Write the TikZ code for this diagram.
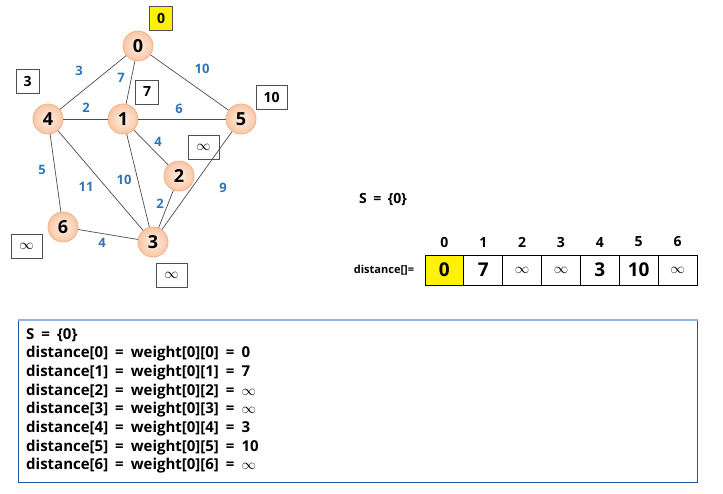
\documentclass[tikz,border=0pt]{standalone}
\usepackage{fontspec}
\setmainfont{Open Sans}[WordSpace=1.8]
\usetikzlibrary{shapes,arrows}
\definecolor{peach}{RGB}{248,198,165}
\definecolor{peachin}{RGB}{254,240,228}
\definecolor{peachline}{RGB}{244,177,131}
\definecolor{wblue}{RGB}{46,117,182}
\definecolor{boxline}{RGB}{80,80,80}
\definecolor{infoline}{RGB}{30,85,165}
\definecolor{infotop}{RGB}{143,180,222}
\newcommand{\infsym}{{\fontsize{14}{14}\selectfont$\infty$}}

\begin{document}
\begin{tikzpicture}[x=1pt,y=-1pt,
  vert/.style={circle,minimum size=30pt,inner sep=0pt,draw=peachline,line width=0.8pt,
    inner color=peachin,outer color=peach,font=\fontsize{18}{18}\selectfont\bfseries},
  wt/.style={text=wblue,inner sep=1pt,font=\fontsize{13}{13}\selectfont\bfseries},
  dbox/.style={draw=boxline,line width=1pt,minimum width=23pt,minimum height=24pt,
    inner sep=0pt,font=\fontsize{14}{14}\selectfont\bfseries},
  wide/.style={minimum width=31pt},
  cell/.style={draw,line width=0.8pt,minimum width=38.86pt,minimum height=30pt,
    inner sep=0pt,font=\fontsize{19}{19}\selectfont\bfseries},
  idx/.style={inner sep=0pt,font=\fontsize{14}{14}\selectfont\bfseries},
  edge/.style={draw=black!70,line width=0.7pt}]
\useasboundingbox (0,0) rectangle (723,493);

% vertices
\node[vert] (v0) at (138,46) {0};
\node[vert] (v4) at (48,119) {4};
\node[vert] (v1) at (123,119) {1};
\node[vert] (v5) at (241,119) {5};
\node[vert] (v2) at (179,176) {2};
\node[vert] (v6) at (63,227) {6};
\node[vert] (v3) at (153,242) {3};

% edges
\draw[edge] (v0) -- (v4);
\draw[edge] (v0) -- (v1);
\draw[edge] (v0) -- (v5);
\draw[edge] (v4) -- (v1);
\draw[edge] (v1) -- (v5);
\draw[edge] (v1) -- (v2);
\draw[edge] (v4) -- (v6);
\draw[edge] (v4) -- (v3);
\draw[edge] (v1) -- (v3);
\draw[edge] (v2) -- (v3);
\draw[edge] (v5) -- (v3);
\draw[edge] (v6) -- (v3);

% weights
\node[wt] (w04) at (79,71) {3};
\node[wt] (w01) at (121,78) {7};
\node[wt] (w05) at (202,69) {10};
\node[wt] (w41) at (86,108) {2};
\node[wt] (w15) at (179,109) {6};
\node[wt] (w12) at (158,142) {4};
\node[wt] (w46) at (42,170) {5};
\node[wt] (w43) at (86,187) {11};
\node[wt] (w13) at (124,180) {10};
\node[wt] (w23) at (160,204) {2};
\node[wt] (w53) at (223,188) {9};
\node[wt] (w63) at (102,243) {4};

% distance boxes
\node[dbox,fill=yellow] (d0) at (161,18) {0};
\node[dbox] (d4) at (27.5,81) {3};
\node[dbox] (d1) at (147,92) {7};
\node[dbox,wide] (d5) at (271.5,97) {10};
\node[dbox,wide] (d2) at (203.5,147) {\infsym};
\node[dbox,wide] (d6) at (26.5,246) {\infsym};
\node[dbox,wide] (d3) at (171.5,275) {\infsym};

% array
\node[idx] (set) at (383,200) {S = \{0\}};
\node[inner sep=0pt,font=\fontsize{11}{11}\selectfont\bfseries] (dlabel) at (384,270) {distance[]=};
\foreach \v/\fillc [count=\i from 0] in {0/yellow,7/white,\infsym/white,\infsym/white,3/white,10/white,\infsym/white}
{
  \node[cell,fill=\fillc] (c\i) at ({444.4+38.86*\i},270) {\v};
  \node[idx] (i\i) at ({444.4+38.86*\i},242) {\i};
}

% info box
\draw[infoline,line width=1pt] (18,320) -- (18,482) -- (697,482) -- (697,320);
\draw[infotop,line width=1.6pt] (17.5,320) -- (697.5,320);
\node[anchor=north west,align=left,inner sep=0pt,font=\fontsize{15}{18.7}\selectfont\bfseries] (info) at (26,328) {S = \{0\}\\
distance[0] = weight[0][0] = 0\\
distance[1] = weight[0][1] = 7\\
distance[2] = weight[0][2] = \infsym\\
distance[3] = weight[0][3] = \infsym\\
distance[4] = weight[0][4] = 3\\
distance[5] = weight[0][5] = 10\\
distance[6] = weight[0][6] = \infsym};
\end{tikzpicture}
\end{document}
